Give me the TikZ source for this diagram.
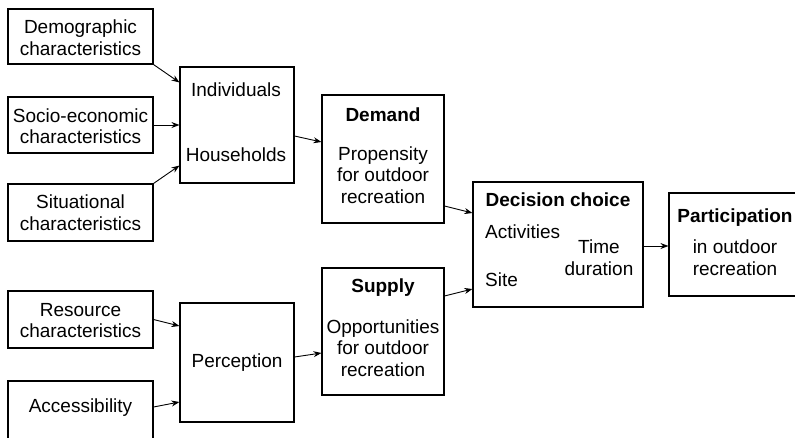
\documentclass[tikz,border=0pt]{standalone}
\usepackage{fontspec}
\setmainfont{Liberation Sans}
\usetikzlibrary{arrows.meta,calc}
\begin{document}
\begin{tikzpicture}[x=1pt,y=-1pt,
  box/.style={draw, line width=1.1pt, inner sep=0pt, minimum width=#1},
  txt/.style={inner sep=0pt, align=center, font=\fontsize{19}{21.5}\selectfont},
  btxt/.style={txt, font=\fontsize{19}{21.5}\selectfont\bfseries},
  arr/.style={line width=0.9pt, -{Stealth[length=8pt,width=6pt]}}]
\useasboundingbox (0,0) rectangle (795,437);
\clip (0,0) rectangle (795,437);
\fill[white] (0,0) rectangle (795,437);
% boxes
\node[box=145pt, minimum height=55pt] (demo) at (80.5,36.5) {};
\node[box=145pt, minimum height=56pt] (socio) at (80.5,125) {};
\node[box=145pt, minimum height=57pt] (situ) at (80.5,212.5) {};
\node[box=114pt, minimum height=116pt] (indiv) at (237,125) {};
\node[box=145pt, minimum height=57pt] (res) at (80.5,319.5) {};
\node[box=145pt, minimum height=64pt] (acc) at (80.5,413) {};
\node[box=114pt, minimum height=119pt] (perc) at (237,362.5) {};
\node[box=122pt, minimum height=128pt] (demand) at (383,159) {};
\node[box=122pt, minimum height=127pt] (supply) at (383,331.5) {};
\node[box=170pt, minimum height=125pt] (dec) at (558,244.5) {};
\node[box=136pt, minimum height=103pt] (part) at (737,244.5) {};
% texts
\node[txt] (tdemo) at (80.5,37.5) {Demographic\\characteristics};
\node[txt] (tsocio) at (80.5,126) {Socio-economic\\characteristics};
\node[txt] (tsitu) at (80.5,212.5) {Situational\\characteristics};
\node[txt] (tind) at (236,90) {Individuals};
\node[txt] (thh) at (236,155) {Households};
\node[txt] (tres) at (80.5,320.5) {Resource\\characteristics};
\node[txt] (tacc) at (80.5,408) {Accessibility};
\node[txt] (tperc) at (237,363) {Perception};
\node[btxt] (tdem) at (383,115) {Demand};
\node[txt] (tdem2) at (383,175) {Propensity\\for outdoor\\recreation};
\node[btxt] (tsup) at (383,288) {Supply};
\node[txt] (tsup2) at (383,348) {Opportunities\\for outdoor\\recreation};
\node[btxt] (tdec) at (558,200) {Decision choice};
\node[txt, anchor=west] (tact) at (485,232) {Activities};
\node[txt, anchor=west] (tsite) at (485,280) {Site};
\node[txt] (ttime) at (599,257.5) {Time\\duration};
\node[btxt] (tpart) at (735,218) {Participation};
\node[txt] (tpart2) at (735,257.5) {in outdoor\\recreation};
% connectors
\draw[arr] (demo.south east) -- ([yshift=-16pt]indiv.north west);
\draw[arr] (socio.east) -- (indiv.west);
\draw[arr] (situ.north east) -- ([yshift=18pt]indiv.south west);
\draw[arr] ([yshift=-11pt]indiv.east) -- ([yshift=17pt]demand.west);
\draw[arr] ([yshift=-47pt]demand.east) -- ([yshift=31.5pt]dec.west);
\draw[arr] ([yshift=35.5pt]supply.east) -- ([yshift=-44.5pt]dec.west);
\draw[arr] ([yshift=5.5pt]perc.east) -- ([yshift=-21.5pt]supply.west);
\draw[arr] (res.east) -- ([yshift=36.5pt]perc.west);
\draw[arr] ([yshift=6pt]acc.east) -- ([yshift=-39.5pt]perc.west);
\draw[arr] ([yshift=-1.5pt]dec.east) -- ([yshift=-1.5pt]part.west);
\end{tikzpicture}
\end{document}
